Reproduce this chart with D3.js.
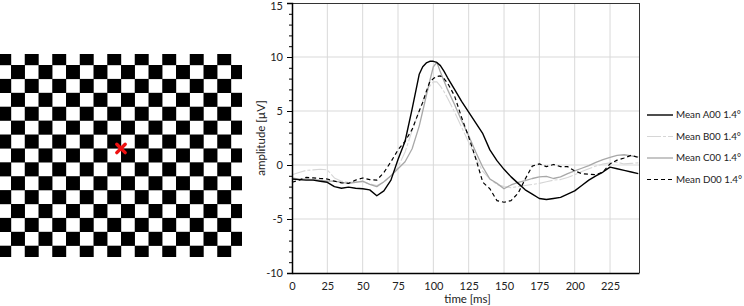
<!DOCTYPE html>
<html>
<head>
<meta charset="utf-8">
<script src="https://cdn.jsdelivr.net/npm/d3@7"></script>
<style>
html,body{margin:0;padding:0;background:#fff;}
svg{display:block;}
text{font-family:Lato,"Open Sans",sans-serif;fill:#222;}
</style>
</head>
<body>
<svg id="chart" width="744" height="306"></svg>
<script>
// ---- data ----
const times = [0,5,10,15,20,25,30,35,40,45,50,55,60,65,70,75,80,85,90,
  92.5,95,97.5,100,102.5,105,107.5,110,
  115,120,125,130,135,140,145,150,155,160,165,170,175,180,185,190,195,200,205,210,215,220,225,230,235,240,245];
const meanA = [-1.3,-1.35,-1.4,-1.4,-1.5,-1.6,-2.0,-2.15,-2.05,-2.15,-2.2,-2.3,-2.85,-2.4,-1.4,0.5,2.2,5.2,8.4,
  9.1,9.45,9.6,9.6,9.5,9.2,8.7,8.1,
  7.0,5.9,4.9,3.9,2.9,1.4,0.4,-0.4,-1.1,-1.7,-2.3,-2.7,-3.1,-3.2,-3.1,-3.0,-2.7,-2.4,-1.9,-1.4,-1.0,-0.65,-0.2,-0.35,-0.5,-0.65,-0.8];
const meanB = [-0.9,-0.7,-0.5,-0.45,-0.4,-0.45,-1.2,-1.5,-1.6,-1.55,-1.6,-1.75,-1.9,-1.6,-1.0,-0.2,1.2,3.2,5.0,
  5.9,6.7,7.3,7.7,7.7,7.3,6.8,6.2,
  4.9,3.5,2.1,0.7,-0.6,-1.3,-1.8,-2.0,-2.1,-2.0,-1.9,-1.8,-1.7,-1.55,-1.4,-1.35,-1.15,-0.9,-0.6,-0.35,-0.1,0.1,0.2,0.25,0.1,0.15,0.2];
const meanC = [-1.2,-1.3,-1.3,-1.35,-1.4,-1.5,-1.5,-1.6,-1.7,-1.6,-1.5,-1.8,-2.0,-1.55,-1.0,-0.35,0.3,1.5,3.6,
  5.0,6.4,7.8,9.1,9.5,8.6,7.8,7.0,
  5.6,4.1,2.7,1.2,-0.2,-1.3,-1.7,-2.2,-1.85,-1.6,-1.45,-1.25,-1.1,-1.05,-1.25,-1.1,-0.8,-0.55,-0.3,-0.05,0.25,0.5,0.7,0.9,0.95,0.85,0.75];
const meanD = [-1.6,-1.4,-1.15,-1.2,-1.25,-1.3,-1.5,-1.65,-1.7,-1.4,-1.2,-1.35,-1.4,-0.7,0.3,1.4,2.2,3.3,5.0,
  5.8,6.8,7.7,8.0,8.2,8.25,8.0,7.6,
  6.4,4.4,2.6,0.6,-1.6,-2.2,-3.3,-3.45,-3.3,-2.6,-1.3,-0.1,0.1,-0.15,0.05,-0.15,-0.15,-0.55,-0.8,-0.85,-0.9,-0.65,0.1,0.45,0.65,0.9,0.7];
const seriesNames = ["Mean A00 1.4°","Mean B00 1.4°","Mean C00 1.4°","Mean D00 1.4°"];
const xTicks = [0,25,50,75,100,125,150,175,200,225];
const yTicks = [-10,-5,0,5,10,15];
const boardRows = 15, boardCols = 18;

// ---- styles ----
const styles = [
  {color:"#000000", width:1.4, dash:null},
  {color:"#d6d6d6", width:1.1, dash:"14,2,3,2"},
  {color:"#a8a8a8", width:1.3, dash:null},
  {color:"#000000", width:1.2, dash:"4,3"}
];
const FONT = "Lato, 'Open Sans', sans-serif";

const svg = d3.select("#chart");

// ---- checkerboard ----
const defs = svg.append("defs");
defs.append("clipPath").attr("id","boardClip").append("rect")
  .attr("x",0).attr("y",54).attr("width",242).attr("height",203);
const bx = d3.scaleBand().domain(d3.range(boardCols)).range([-2.75, -2.75 + 13.75*boardCols]);
const by = d3.scaleBand().domain(d3.range(boardRows)).range([51.1, 51.1 + 13.9*boardRows]);
const cells = [];
for (let r=0;r<boardRows;r++) for (let c=0;c<boardCols;c++) if ((r+c)%2===0) cells.push({r,c});
const board = svg.append("g").attr("clip-path","url(#boardClip)");
board.selectAll("rect").data(cells).join("rect")
  .attr("x",d=>bx(d.c)).attr("y",d=>by(d.r))
  .attr("width",bx.bandwidth()+0.2).attr("height",by.bandwidth()+0.2)
  .attr("fill","#000");
// red fixation cross at the board centre corner
const cx = bx(9), cy = by(7);
const cross = svg.append("g").attr("transform",`translate(${cx},${cy})`);
[[-4.2,-4.2,4.2,4.2],[-4.2,4.2,4.2,-4.2]].forEach(p=>{
  cross.append("line").attr("x1",p[0]).attr("y1",p[1]).attr("x2",p[2]).attr("y2",p[3])
    .attr("stroke","#ee1111").attr("stroke-width",3.4).attr("stroke-linecap","round");
});

// ---- plot ----
const L=292, R=639, T=3, B=273;
const x = d3.scaleLinear().domain([0,245.5]).range([L,R]);
const y = d3.scaleLinear().domain([-10,15]).range([B,T]);

// grid
const grid = svg.append("g");
grid.selectAll("line.v").data(xTicks.filter(d=>d>0)).join("line")
  .attr("x1",d=>x(d)).attr("x2",d=>x(d)).attr("y1",T).attr("y2",B)
  .attr("stroke","#d9d9d9").attr("stroke-width",1);
grid.selectAll("line.h").data(yTicks.filter(d=>d>-10 && d<15)).join("line")
  .attr("x1",L).attr("x2",R).attr("y1",d=>y(d)).attr("y2",d=>y(d))
  .attr("stroke","#d9d9d9").attr("stroke-width",1);

// series
const allSeries = [meanA, meanB, meanC, meanD];
const line = d3.line().x((d,i)=>x(times[i])).y(d=>y(d));
const drawOrder = [1,2,3,0];
drawOrder.forEach(k=>{
  svg.append("path").datum(allSeries[k])
    .attr("d",line).attr("fill","none")
    .attr("stroke",styles[k].color).attr("stroke-width",styles[k].width)
    .attr("stroke-dasharray",styles[k].dash)
    .attr("stroke-linejoin","round");
});

// frame top/right
svg.append("line").attr("x1",L).attr("x2",R).attr("y1",T+0.5).attr("y2",T+0.5).attr("stroke","#333").attr("stroke-width",1);
svg.append("line").attr("x1",R+0.5).attr("x2",R+0.5).attr("y1",T).attr("y2",B).attr("stroke","#333").attr("stroke-width",1);

// y axis
const yAxis = d3.axisLeft(y).tickValues(yTicks).tickSize(5).tickPadding(4).tickFormat(d=>String(d));
const gy = svg.append("g").attr("transform",`translate(${L},0)`).call(yAxis);
const yMinor = d3.axisLeft(y).tickValues(d3.range(-10,16,1)).tickSize(3).tickFormat("");
const gy2 = svg.append("g").attr("transform",`translate(${L},0)`).call(yMinor);
gy2.select(".domain").remove();
gy.select(".domain").attr("stroke","#000").attr("stroke-width",1.5);
[gy,gy2].forEach(g=>g.selectAll(".tick line").attr("stroke","#000"));
gy.selectAll(".tick text").attr("font-size",11).style("font-family",FONT).attr("fill","#222")
  .attr("dy",d=>d===15 ? "0.55em" : "0.32em");

// x axis
const xAxis = d3.axisBottom(x).tickValues(xTicks).tickSize(0).tickPadding(9);
const gx = svg.append("g").attr("transform",`translate(0,${B})`).call(xAxis);
gx.select(".domain").attr("stroke","#000").attr("stroke-width",1.5);
gx.selectAll(".tick text").attr("font-size",11).style("font-family",FONT).attr("fill","#222");

// axis titles
svg.append("text").attr("x",(L+R)/2+2).attr("y",303).attr("text-anchor","middle")
  .attr("font-size",11.5).text("time [ms]");
svg.append("text").attr("transform",`translate(265,${(T+B)/2}) rotate(-90)`)
  .attr("text-anchor","middle").attr("font-size",11.5).text("amplitude [µV]");

// legend
const leg = svg.append("g");
seriesNames.forEach((name,k)=>{
  const ly = 115 + k*21.5;
  leg.append("line").attr("x1",647).attr("x2",673).attr("y1",ly).attr("y2",ly)
    .attr("stroke",styles[k].color).attr("stroke-width",styles[k].width)
    .attr("stroke-dasharray",styles[k].dash);
  leg.append("text").attr("x",676).attr("y",ly).attr("dy","0.35em")
    .attr("font-size",9.8).text(name);
});
</script>
</body>
</html>
